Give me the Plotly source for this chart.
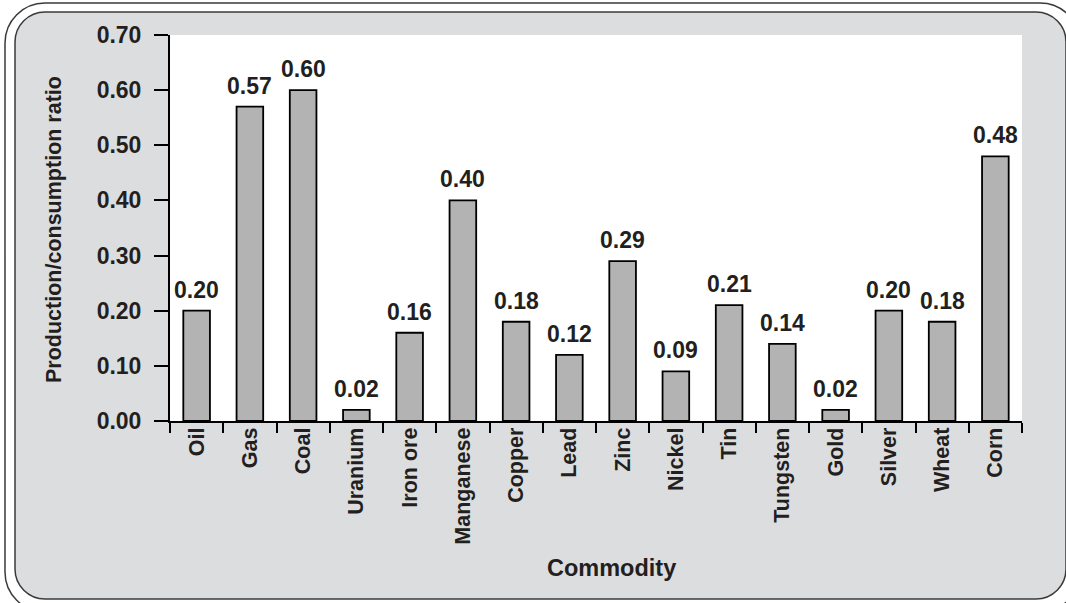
import plotly.graph_objects as go

# Production/consumption ratio per commodity
commodities = ["Oil", "Gas", "Coal", "Uranium", "Iron ore", "Manganese", "Copper",
               "Lead", "Zinc", "Nickel", "Tin", "Tungsten", "Gold", "Silver",
               "Wheat", "Corn"]
ratios = [0.20, 0.57, 0.60, 0.02, 0.16, 0.40, 0.18, 0.12, 0.29, 0.09, 0.21,
          0.14, 0.02, 0.20, 0.18, 0.48]
y_ticks = [0.0, 0.1, 0.2, 0.3, 0.4, 0.5, 0.6, 0.7]

W, H = 1066, 603
L, R, T, B = 170, 1022, 35, 421          # plot area in pixels
TXT = "#231f20"
FONT = "Liberation Sans, Arial, sans-serif"


def px(x):
    return (x - L) / (R - L)


def py(y):
    return (B - y) / (B - T)


def rounded_rect(x0, y0, x1, y1, r):
    k = 0.5523 * r
    pts = [
        f"M {px(x0 + r)},{py(y0)}",
        f"L {px(x1 - r)},{py(y0)}",
        f"C {px(x1 - r + k)},{py(y0)} {px(x1)},{py(y0 + r - k)} {px(x1)},{py(y0 + r)}",
        f"L {px(x1)},{py(y1 - r)}",
        f"C {px(x1)},{py(y1 - r + k)} {px(x1 - r + k)},{py(y1)} {px(x1 - r)},{py(y1)}",
        f"L {px(x0 + r)},{py(y1)}",
        f"C {px(x0 + r - k)},{py(y1)} {px(x0)},{py(y1 - r + k)} {px(x0)},{py(y1 - r)}",
        f"L {px(x0)},{py(y0 + r)}",
        f"C {px(x0)},{py(y0 + r - k)} {px(x0 + r - k)},{py(y0)} {px(x0 + r)},{py(y0)}",
        "Z",
    ]
    return " ".join(pts)


fig = go.Figure()
fig.add_trace(go.Bar(
    x=commodities, y=ratios,
    marker=dict(color="#b3b3b3", line=dict(color="#000000", width=1.8)),
    width=0.5,
    hoverinfo="skip",
))

# value labels above bars
annotations = []
for c, v in zip(commodities, ratios):
    annotations.append(dict(
        x=c, y=v, xref="x", yref="y", text=f"<b>{v:.2f}</b>",
        showarrow=False, yanchor="bottom", yshift=6,
        font=dict(family=FONT, size=23, color=TXT),
    ))

# axis titles
annotations.append(dict(
    x=px(54), y=py(230), xref="paper", yref="paper",
    text="<b>Production/consumption ratio</b>", textangle=-90,
    showarrow=False, xanchor="center", yanchor="middle",
    font=dict(family=FONT, size=21.5, color=TXT),
))
annotations.append(dict(
    x=px(611), y=py(568), xref="paper", yref="paper",
    text="<b>Commodity</b>", showarrow=False,
    xanchor="center", yanchor="middle",
    font=dict(family=FONT, size=23.5, color=TXT),
))

shapes = [
    dict(type="path", path=rounded_rect(5, 3, 1080, 612, 40), xref="paper", yref="paper",
         fillcolor="#ffffff", line=dict(color="#3a3a3a", width=1.5), layer="below"),
    dict(type="path", path=rounded_rect(15, 12, 1066, 599, 30), xref="paper", yref="paper",
         fillcolor="#dcdddf", line=dict(color="#3a3a3a", width=1.5), layer="below"),
    dict(type="rect", x0=0, x1=1, y0=0, y1=1, xref="paper", yref="paper",
         fillcolor="#ffffff", line=dict(width=0), layer="below"),
]

fig.update_layout(
    width=W, height=H,
    margin=dict(l=L, r=W - R, t=T, b=H - B, pad=0),
    paper_bgcolor="#ffffff",
    plot_bgcolor="rgba(0,0,0,0)",
    showlegend=False,
    bargap=0.5,
    shapes=shapes,
    annotations=annotations,
    font=dict(family=FONT, color=TXT),
    xaxis=dict(
        type="category", tickson="boundaries", ticks="outside", ticklen=10,
        tickwidth=2, tickcolor="#000000", showline=True, linecolor="#000000",
        linewidth=2, showgrid=False, tickangle=-90, ticklabelstandoff=-4,
        tickfont=dict(family=FONT, size=21.5, color=TXT, weight="bold"),
        range=[-0.5, len(commodities) - 0.5], fixedrange=True,
    ),
    yaxis=dict(
        range=[0, 0.7], tickvals=y_ticks, tickformat=".2f", ticks="outside",
        ticklen=14, tickwidth=2, tickcolor="#000000", showline=True,
        linecolor="#000000", linewidth=2, showgrid=False, zeroline=False,
        ticklabelstandoff=8,
        tickfont=dict(family=FONT, size=23, color=TXT, weight="bold"),
        fixedrange=True,
    ),
)

fig.write_html("out.html", config={"displayModeBar": False})
